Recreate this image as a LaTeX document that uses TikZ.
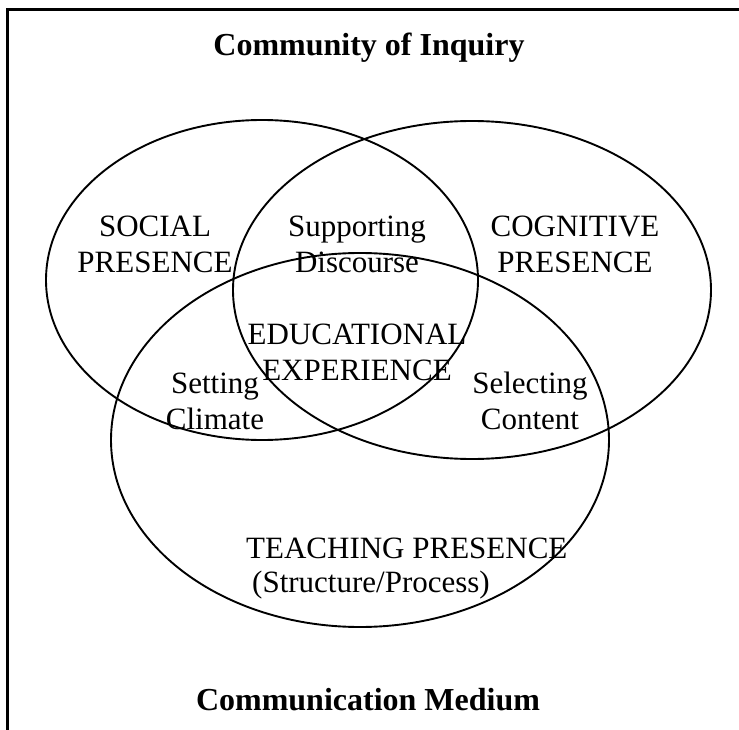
\documentclass[tikz,border=0pt]{standalone}
\usepackage{fontspec}
\setmainfont{Liberation Serif}
\begin{document}
\begin{tikzpicture}[x=1pt, y=-1pt,
	lbl/.style={font=\fontsize{31}{36}\selectfont, align=center, inner sep=0pt},
	ttl/.style={font=\fontsize{32}{36}\selectfont\bfseries, inner sep=0pt},
	circ/.style={line width=1.9pt}]
	\useasboundingbox (0,0) rectangle (739,730);
	
	% frame (top and left edges only)
	\draw[line width=3pt] (7,730) -- (7,10) -- (739,10);
	
	% the three presences
	\draw[circ] (262,280) ellipse (216 and 160);
	\draw[circ] (472,290) ellipse (239 and 169);
	\draw[circ] (360,440) ellipse (249 and 187);
	
	\node[ttl] (coi) at (369,48) {Community of Inquiry};
	\node[ttl] (medium) at (368,700) {Communication Medium};
	
	\node[lbl] (social) at (155,244) {SOCIAL\\PRESENCE};
	\node[lbl] (discourse) at (357,244) {Supporting\\Discourse};
	\node[lbl] (cognitive) at (575,244) {COGNITIVE\\PRESENCE};
	\node[lbl] (experience) at (357,352) {EDUCATIONAL\\EXPERIENCE};
	\node[lbl] (climate) at (215,401) {Setting\\Climate};
	\node[lbl] (content) at (530,401) {Selecting\\Content};
	\node[lbl, anchor=west] (teaching) at (246,548) {TEACHING PRESENCE};
	\node[lbl, anchor=west] (process) at (252,585) {(Structure/Process)};
\end{tikzpicture}
\end{document}
